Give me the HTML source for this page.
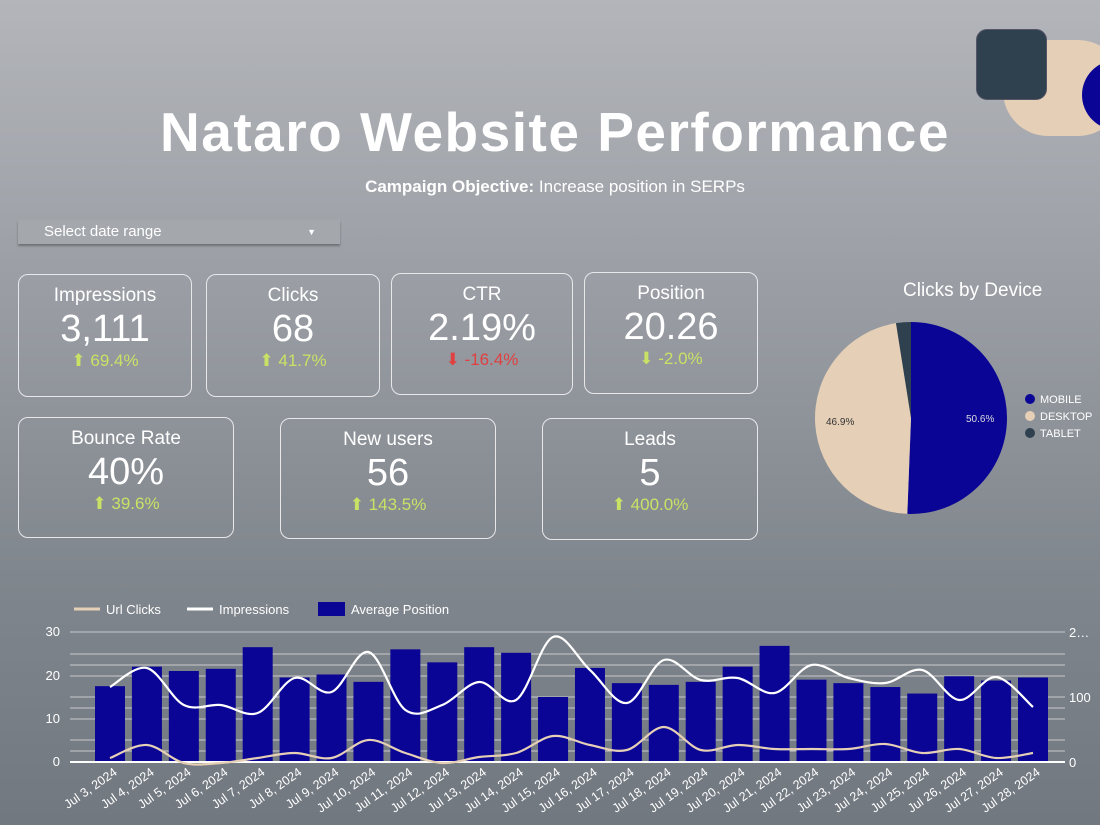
<!DOCTYPE html>
<html><head><meta charset="utf-8"><style>
body{margin:0;width:1100px;height:825px;overflow:hidden;font-family:"Liberation Sans",sans-serif;}
#bg{position:absolute;left:0;top:0;width:1100px;height:825px;background:linear-gradient(180deg,#b3b5ba 0%,#9a9ea4 35%,#80868d 70%,#727880 100%);}
.card{position:absolute;border:1.5px solid #e8e8ea;border-radius:10px;color:#fff;text-align:center;box-sizing:border-box;}
.card .t{font-size:19px;margin-top:10px;}
.card .v{font-size:38px;line-height:40px;margin-top:2px;}
.card .d{font-size:17px;color:#c9e265;margin-top:2px;}
.card .d.r{color:#e04040;}
</style></head><body><div id="bg"></div>
<div style="position:absolute;left:1003px;top:40px;width:120px;height:96px;background:#e5cfb6;border-radius:45px;"></div>
<div style="position:absolute;left:1082px;top:60px;width:70px;height:70px;background:#0a0595;border-radius:50%;"></div>
<div style="position:absolute;left:976px;top:29px;width:71px;height:71px;background:#2f414f;border-radius:11px;border:1px solid #556;box-sizing:border-box;"></div>
<div style="position:absolute;left:0;top:100px;width:1110px;text-align:center;color:#fff;font-weight:bold;font-size:55px;letter-spacing:1.5px;">Nataro Website Performance</div>
<div style="position:absolute;left:0;top:177px;width:1110px;text-align:center;color:#fff;font-size:17px;"><b>Campaign Objective:</b> Increase position in SERPs</div>
<div style="position:absolute;left:18px;top:220px;width:322px;height:24px;background:#a4a7ac;box-shadow:0 2px 2px rgba(0,0,0,.3);color:#fff;font-size:15px;line-height:24px;"><span style="margin-left:26px">Select date range</span><span style="position:absolute;right:24px;font-size:9px;">▼</span></div>
<div class="card" style="left:18px;top:274px;width:174px;height:123px"><div class="t">Impressions</div><div class="v">3,111</div><div class="d">⬆ 69.4%</div></div>
<div class="card" style="left:206px;top:274px;width:174px;height:123px"><div class="t">Clicks</div><div class="v">68</div><div class="d">⬆ 41.7%</div></div>
<div class="card" style="left:391px;top:273px;width:182px;height:122px"><div class="t">CTR</div><div class="v">2.19%</div><div class="d r">⬇ -16.4%</div></div>
<div class="card" style="left:584px;top:272px;width:174px;height:122px"><div class="t">Position</div><div class="v">20.26</div><div class="d">⬇ -2.0%</div></div>
<div class="card" style="left:18px;top:417px;width:216px;height:121px"><div class="t">Bounce Rate</div><div class="v">40%</div><div class="d">⬆ 39.6%</div></div>
<div class="card" style="left:280px;top:418px;width:216px;height:121px"><div class="t">New users</div><div class="v">56</div><div class="d">⬆ 143.5%</div></div>
<div class="card" style="left:542px;top:418px;width:216px;height:122px"><div class="t">Leads</div><div class="v">5</div><div class="d">⬆ 400.0%</div></div>
<div style="position:absolute;left:903px;top:280px;color:#fff;font-size:19px;">Clicks by Device</div>
<svg id="s" width="1100" height="825" style="position:absolute;left:0;top:0" font-family="Liberation Sans, sans-serif"></svg>
<script>
var s='';
var cx=911,cy=418,r=96;
function pt(a){a=(a-90)*Math.PI/180;return [cx+r*Math.cos(a),cy+r*Math.sin(a)];}
function sl(a0,a1,c){var p=pt(a0),q=pt(a1);return '<path d="M'+cx+','+cy+'L'+p+'A'+r+','+r+' 0 '+((a1-a0)>180?1:0)+' 1 '+q+'Z" fill="'+c+'"/>';}
s+=sl(0,182.2,'#0a0595')+sl(182.2,351,'#e5cfb6')+sl(351,360,'#2f414f');
s+='<text x="966" y="422" font-size="10" fill="#ddd">50.6%</text><text x="826" y="425" font-size="10" fill="#333">46.9%</text>';
var lg=[['MOBILE','#0a0595'],['DESKTOP','#e5cfb6'],['TABLET','#2f414f']];
lg.forEach(function(l,i){s+='<circle cx="1030" cy="'+(399+i*17)+'" r="5" fill="'+l[1]+'"/><text x="1040" y="'+(403+i*17)+'" font-size="11" fill="#fff">'+l[0]+'</text>';});
[632,654,665,676,697,708,719,740,751].forEach(function(y){s+='<line x1="70" x2="1065" y1="'+y+'" y2="'+y+'" stroke="#c8cacd" stroke-width="1"/>';});
var bars=[17.5,22,21,21.5,26.5,19.5,20.2,18.5,26,23,26.5,25.2,15,21.7,18.2,17.8,18.5,22,26.8,19,18.2,17.3,15.8,19.8,18.8,19.5];
var imp=[687,668,705,705,713,678,692,652,710,705,682,700,637,670,703,660,680,678,693,665,678,683,670,700,677,707];
var clk=[758,745,763,763,758,753,758,740,753,763,757,753,736,745,750,727,750,745,749,749,749,744,753,749,758,753];
var days=[];for(var i=3;i<=28;i++)days.push('Jul '+i+', 2024');
bars.forEach(function(v,i){var x=110+i*36.92;var h=v*4.333;s+='<rect x="'+(x-15)+'" y="'+(762-h)+'" width="30" height="'+h+'" fill="#0a0595"/>';
s+='<text transform="translate('+(x+8)+',774) rotate(-35)" text-anchor="end" font-size="12.5" fill="#fff">'+days[i]+'</text>';});
s+='<line x1="70" x2="1065" y1="762" y2="762" stroke="#fff" stroke-width="2"/>';
function curve(ys,c,w){var p=ys.map(function(y,i){return [110+i*36.92,y];});var d='M'+p[0];for(var i=0;i<p.length-1;i++){var p0=p[i-1]||p[i],p1=p[i],p2=p[i+1],p3=p[i+2]||p2;d+='C'+[p1[0]+(p2[0]-p0[0])/6,p1[1]+(p2[1]-p0[1])/6]+' '+[p2[0]-(p3[0]-p1[0])/6,p2[1]-(p3[1]-p1[1])/6]+' '+p2;}return '<path d="'+d+'" fill="none" stroke="'+c+'" stroke-width="'+w+'"/>';}
s+=curve(imp,'#fff',2.2)+curve(clk,'#e5cfb6',2.2);
[[30,636],[20,680],[10,723],[0,766]].forEach(function(a){s+='<text x="60" y="'+a[1]+'" text-anchor="end" font-size="13" fill="#fff">'+a[0]+'</text>';});
s+='<text x="1069" y="637" font-size="13" fill="#fff">2…</text><text x="1069" y="702" font-size="13" fill="#fff">100</text><text x="1069" y="767" font-size="13" fill="#fff">0</text>';
s+='<line x1="74" x2="100" y1="609" y2="609" stroke="#e5cfb6" stroke-width="3"/><text x="106" y="614" font-size="13" fill="#fff">Url Clicks</text>';
s+='<line x1="187" x2="213" y1="609" y2="609" stroke="#fff" stroke-width="3"/><text x="219" y="614" font-size="13" fill="#fff">Impressions</text>';
s+='<rect x="318" y="602" width="27" height="14" fill="#0a0595"/><text x="351" y="614" font-size="13" fill="#fff">Average Position</text>';
document.getElementById('s').innerHTML=s;
</script>
</body></html>
